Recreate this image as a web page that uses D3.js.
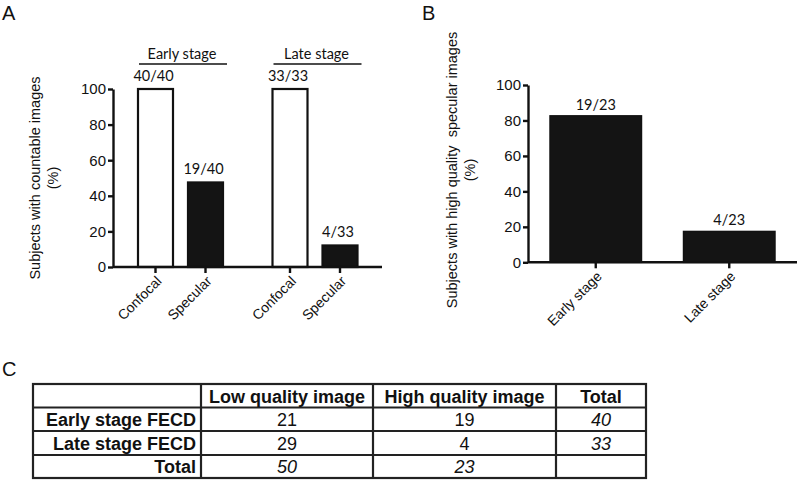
<!DOCTYPE html>
<html><head><meta charset="utf-8">
<script src="https://cdn.jsdelivr.net/npm/d3@7"></script>
<style>
html,body{margin:0;padding:0;background:#fff;}
svg{display:block;}
</style></head>
<body>
<svg id="c" width="800" height="483"></svg>
<script>
// ---------- DATA ----------
const aGroups = ["Early stage", "Late stage"];
const aMethods = ["Confocal", "Specular"];
const aValues = [[100, 47.5], [100, 12.1]];          // % countable images
const aLabels = [["40/40", "19/40"], ["33/33", "4/33"]];
const aFills = ["#ffffff", "#141414"];

const bCategories = ["Early stage", "Late stage"];
const bValues = [82.6, 17.4];                          // % high quality specular
const bLabels = ["19/23", "4/23"];

const yTicks = [0, 20, 40, 60, 80, 100];

const tableHeader = ["", "Low quality image", "High quality image", "Total"];
const tableRows = ["Early stage FECD", "Late stage FECD", "Total"];
const lowQuality = [21, 29, 50];
const highQuality = [19, 4, 23];
const rowTotals = [40, 33, null];

// ---------- SETUP ----------
const svg = d3.select("#c");
const sans = "'Liberation Sans', Arial, Helvetica, sans-serif";
const myriad = "Lato, 'Open Sans', sans-serif";
const ink = "#111";

function panelLetter(t, x, y) {
  svg.append("text").attr("x", x).attr("y", y).text(t)
    .attr("font-family", sans).attr("font-size", 20).attr("fill", ink);
}
panelLetter("A", 2, 20);
panelLetter("B", 422, 20);
panelLetter("C", 2, 376);

function styleAxis(g) {
  g.selectAll("path,line").attr("stroke", ink).attr("stroke-width", 2.4);
  g.selectAll("text").attr("font-family", sans).attr("font-size", 15).attr("fill", ink);
}

// ---------- PANEL A ----------
{
  const yA = d3.scaleLinear().domain([0, 100]).range([267, 89]);
  const xOuter = d3.scaleBand().domain(aGroups).range([113.25, 382.25]).paddingInner(0).paddingOuter(0);
  const xInner = d3.scaleBand().domain(aMethods).range([0, xOuter.bandwidth()]).paddingInner(0.3).paddingOuter(0.495);

  const gA = svg.append("g");
  const ya = gA.append("g").attr("transform", "translate(113,0)")
    .call(d3.axisLeft(yA).tickValues(yTicks).tickSize(5).tickSizeOuter(0).tickPadding(2));
  styleAxis(ya);

  aGroups.forEach((grp, gi) => {
    aMethods.forEach((m, mi) => {
      const x = xOuter(grp) + xInner(m);
      const v = aValues[gi][mi];
      gA.append("rect")
        .attr("x", x).attr("y", yA(v))
        .attr("width", xInner.bandwidth()).attr("height", yA(0) - yA(v))
        .attr("fill", aFills[mi]).attr("stroke", ink).attr("stroke-width", 2.2);
      gA.append("text")
        .attr("x", x + xInner.bandwidth() / 2 - 2).attr("y", yA(v) - 8)
        .attr("text-anchor", "middle").attr("font-family", myriad).attr("font-size", 14.5)
        .attr("fill", ink).text(aLabels[gi][mi]);
      const cx = x + xInner.bandwidth() / 2;
      gA.append("line").attr("x1", cx).attr("x2", cx).attr("y1", yA(0)).attr("y2", yA(0) + 6)
        .attr("stroke", ink).attr("stroke-width", 2.4);
      gA.append("text")
        .attr("transform", `translate(${cx + 7},${yA(0) + 15}) rotate(-45)`)
        .attr("text-anchor", "end").attr("font-family", sans).attr("font-size", 14)
        .attr("fill", ink).text(m);
    });
    const gx0 = xOuter(grp) + xInner(aMethods[0]) + 1;
    const gx1 = xOuter(grp) + xInner(aMethods[1]) + xInner.bandwidth() + 4;
    gA.append("line").attr("x1", gx0).attr("x2", gx1).attr("y1", 64).attr("y2", 64)
      .attr("stroke", ink).attr("stroke-width", 1.6);
    gA.append("text").attr("x", (gx0 + gx1) / 2 - 1).attr("y", 59).attr("text-anchor", "middle")
      .attr("font-family", myriad).attr("font-size", 14.5).attr("fill", ink).text(grp);
  });
  gA.append("line").attr("x1", 113).attr("x2", 382).attr("y1", yA(0)).attr("y2", yA(0))
    .attr("stroke", ink).attr("stroke-width", 2.4);

  const t = gA.append("text").attr("transform", "translate(40,178) rotate(-90)")
    .attr("text-anchor", "middle").attr("font-family", sans).attr("font-size", 14.5).attr("fill", ink);
  t.append("tspan").attr("x", 0).attr("dy", 0).text("Subjects with countable images");
  t.append("tspan").attr("x", 0).attr("dy", 18).text("(%)");
}

// ---------- PANEL B ----------
{
  const yB = d3.scaleLinear().domain([0, 100]).range([262.3, 85]);
  const xB = d3.scaleBand().domain(bCategories).range([528, 797]).paddingInner(0.315).paddingOuter(0.165);
  const gB = svg.append("g");
  const yb = gB.append("g").attr("transform", "translate(528,0)")
    .call(d3.axisLeft(yB).tickValues(yTicks).tickSize(5).tickSizeOuter(0).tickPadding(2));
  styleAxis(yb);

  bCategories.forEach((c, i) => {
    const v = bValues[i];
    gB.append("rect").attr("x", xB(c)).attr("y", yB(v))
      .attr("width", xB.bandwidth()).attr("height", yB(0) - yB(v))
      .attr("fill", "#141414").attr("stroke", ink).attr("stroke-width", 1.5);
    const cx = xB(c) + xB.bandwidth() / 2;
    gB.append("text").attr("x", cx).attr("y", yB(v) - 6).attr("text-anchor", "middle")
      .attr("font-family", myriad).attr("font-size", 14.5).attr("fill", ink).text(bLabels[i]);
    gB.append("line").attr("x1", cx).attr("x2", cx).attr("y1", yB(0)).attr("y2", yB(0) + 6)
      .attr("stroke", ink).attr("stroke-width", 2.4);
    gB.append("text")
      .attr("transform", `translate(${cx + 7},${yB(0) + 15}) rotate(-45)`)
      .attr("text-anchor", "end").attr("font-family", sans).attr("font-size", 14)
      .attr("fill", ink).text(c);
  });
  gB.append("line").attr("x1", 528).attr("x2", 797).attr("y1", yB(0)).attr("y2", yB(0))
    .attr("stroke", ink).attr("stroke-width", 2.4);

  const t = gB.append("text").attr("transform", "translate(457,170) rotate(-90)")
    .attr("text-anchor", "middle").attr("font-family", sans).attr("font-size", 14.5).attr("fill", ink);
  t.append("tspan").attr("x", 0).attr("dy", 0).text("Subjects with high quality  specular images").attr("xml:space", "preserve");
  t.append("tspan").attr("x", 0).attr("dy", 18).text("(%)");
}

// ---------- PANEL C (table) ----------
{
  const colX = [33, 201, 373, 556, 646];
  const rowY = [384, 407.5, 431, 455, 478];
  const gC = svg.append("g");
  gC.append("rect").attr("x", colX[0]).attr("y", rowY[0])
    .attr("width", colX[4] - colX[0]).attr("height", rowY[4] - rowY[0])
    .attr("fill", "none").attr("stroke", "#222").attr("stroke-width", 2.2);
  colX.slice(1, 4).forEach(x => gC.append("line").attr("x1", x).attr("x2", x)
    .attr("y1", rowY[0]).attr("y2", rowY[4]).attr("stroke", "#222").attr("stroke-width", 2.2));
  rowY.slice(1, 4).forEach(y => gC.append("line").attr("x1", colX[0]).attr("x2", colX[4])
    .attr("y1", y).attr("y2", y).attr("stroke", "#222").attr("stroke-width", 2.2));

  const cell = (txt, ci, ri, opts = {}) => {
    if (txt === null || txt === "") return;
    const cx = opts.right ? colX[ci + 1] - 5 : (colX[ci] + colX[ci + 1]) / 2;
    gC.append("text").attr("x", cx).attr("y", rowY[ri + 1] - 5)
      .attr("text-anchor", opts.right ? "end" : "middle")
      .attr("font-family", sans).attr("font-size", 18).attr("fill", ink)
      .attr("font-weight", opts.bold ? "bold" : "normal")
      .attr("font-style", opts.italic ? "italic" : "normal").text(txt);
  };
  tableHeader.forEach((h, ci) => cell(h, ci, 0, { bold: true }));
  tableRows.forEach((r, ri) => {
    const isTotal = ri === tableRows.length - 1;
    cell(r, 0, ri + 1, { bold: true, right: true });
    cell(lowQuality[ri], 1, ri + 1, { italic: isTotal });
    cell(highQuality[ri], 2, ri + 1, { italic: isTotal });
    cell(rowTotals[ri], 3, ri + 1, { italic: true });
  });
}
</script>
</body></html>
